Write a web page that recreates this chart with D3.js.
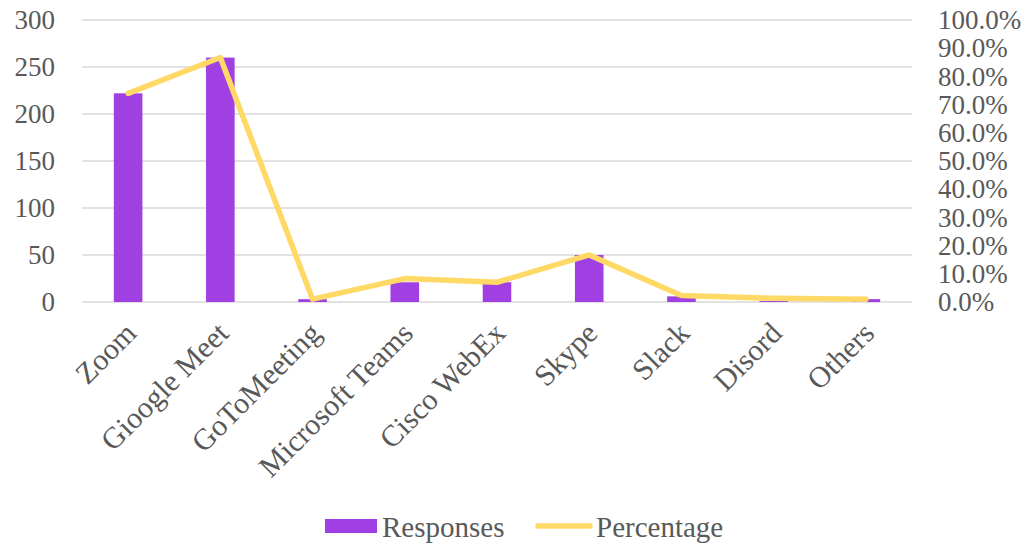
<!DOCTYPE html>
<html><head><meta charset="utf-8">
<script src="https://cdn.jsdelivr.net/npm/d3@7"></script>
<style>body{margin:0;background:#fff}svg{display:block}text{font-family:"Liberation Serif","Times New Roman",serif;fill:#595959}</style>
</head><body>
<svg id="c" width="1032" height="545"></svg>
<script>
const categories = ["Zoom","Gioogle Meet","GoToMeeting","Microsoft Teams","Cisco WebEx","Skype","Slack","Disord","Others"];
const responses = [222, 260, 3, 21, 21, 50, 6, 1, 3];
const percentage = [74.0, 86.7, 1.0, 8.3, 7.0, 16.7, 2.3, 1.3, 1.0];
const leftTicks = [0, 50, 100, 150, 200, 250, 300];
const rightTicks = [0,10,20,30,40,50,60,70,80,90,100];
const seriesNames = ["Responses","Percentage"];

const svg = d3.select("#c");
const L = 82, R = 912, T = 20, B = 302;
const x = d3.scaleBand().domain(categories).range([L, R]).paddingInner(0.69).paddingOuter(0.345);
const y = d3.scaleLinear().domain([0, 300]).range([B, T]);
const y2 = d3.scaleLinear().domain([0, 100]).range([B, T]);
const cx = d => x(d) + x.bandwidth() / 2;

// gridlines
svg.append("g").selectAll("line").data(leftTicks).join("line")
  .attr("x1", L).attr("x2", R).attr("y1", d => y(d)).attr("y2", d => y(d))
  .attr("stroke", "#d9d9d9").attr("stroke-width", 1.5);

// left axis
const ax = svg.append("g").attr("transform", `translate(${L},0)`)
  .call(d3.axisLeft(y).tickValues(leftTicks).tickSize(0).tickPadding(27));
ax.select(".domain").remove();
ax.selectAll("text").attr("font-size", 27).attr("fill", "#595959").attr("font-family", "Liberation Serif");

// right axis
const ax2 = svg.append("g").attr("transform", `translate(${R},0)`)
  .call(d3.axisRight(y2).tickValues(rightTicks).tickSize(0).tickPadding(26).tickFormat(d => d.toFixed(1) + "%"));
ax2.select(".domain").remove();
ax2.selectAll("text").attr("font-size", 27).attr("fill", "#595959").attr("font-family", "Liberation Serif");

// bars
svg.append("g").selectAll("rect").data(categories).join("rect")
  .attr("x", d => x(d)).attr("width", x.bandwidth())
  .attr("y", (d, i) => y(responses[i])).attr("height", (d, i) => B - y(responses[i]))
  .attr("fill", "#A040E2");

// line
const line = d3.line().x((d, i) => cx(categories[i])).y(d => y2(d));
svg.append("path").datum(percentage).attr("d", line)
  .attr("fill", "none").attr("stroke", "#FFD966").attr("stroke-width", 5.5)
  .attr("stroke-linejoin", "round").attr("stroke-linecap", "round");

// category labels
svg.append("g").selectAll("text").data(categories).join("text")
  .attr("transform", d => `translate(${cx(d) + 10},${B + 33}) rotate(-45)`)
  .attr("text-anchor", "end").attr("font-size", 30).text(d => d);

// legend
const lg = svg.append("g");
lg.append("rect").attr("x", 325).attr("y", 519).attr("width", 52).attr("height", 14).attr("fill", "#A040E2");
lg.append("text").attr("x", 382).attr("y", 537).attr("font-size", 29).text(seriesNames[0]);
lg.append("line").attr("x1", 538).attr("x2", 590).attr("y1", 526).attr("y2", 526)
  .attr("stroke", "#FFD966").attr("stroke-width", 5.5).attr("stroke-linecap", "round");
lg.append("text").attr("x", 596).attr("y", 537).attr("font-size", 29).text(seriesNames[1]);
</script>
</body></html>
